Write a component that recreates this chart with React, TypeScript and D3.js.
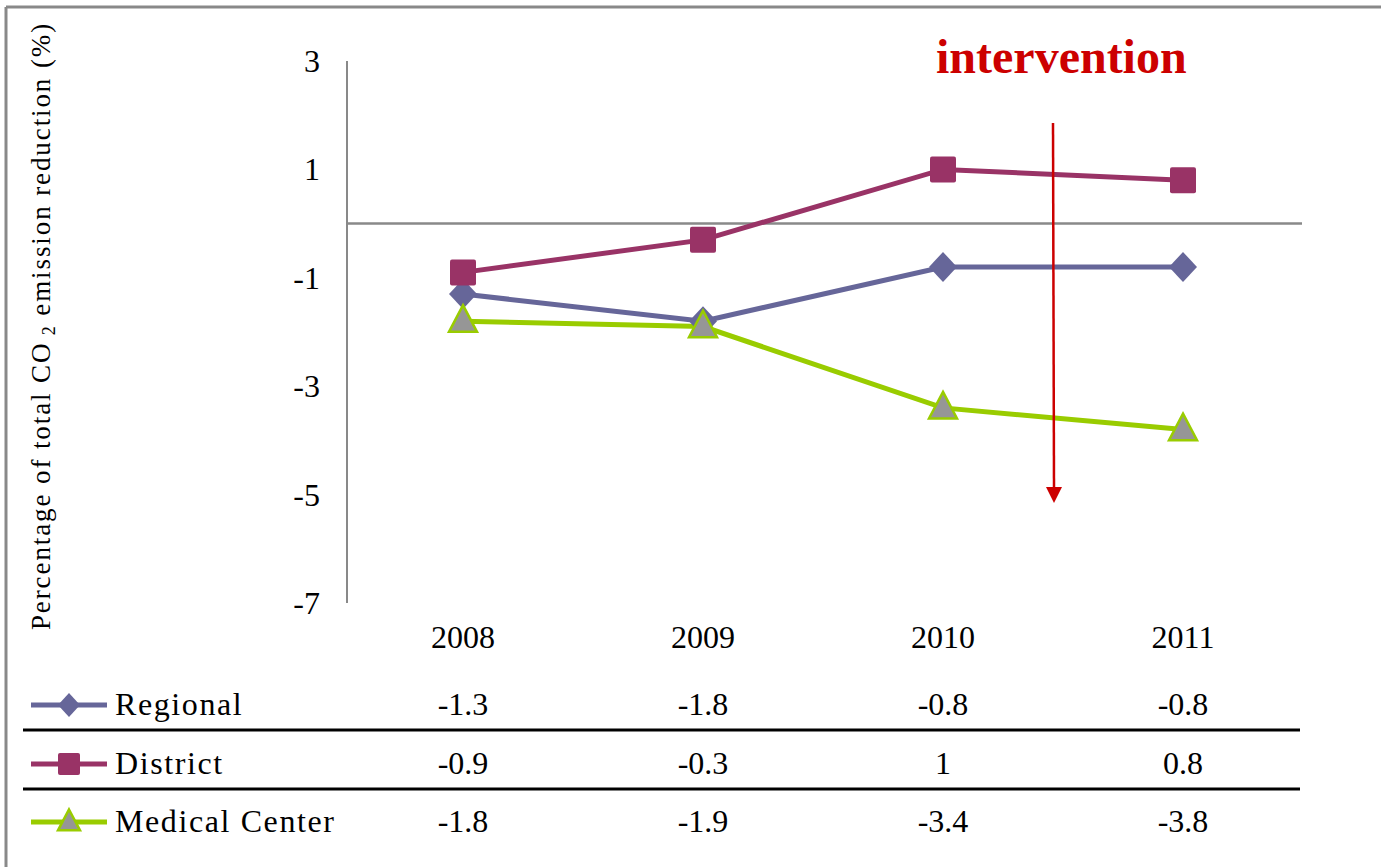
import React from "react";
import * as d3 from "d3";

const years = ["2008", "2009", "2010", "2011"];
const regional = [-1.3, -1.8, -0.8, -0.8];
const district = [-0.9, -0.3, 1, 0.8];
const medical = [-1.8, -1.9, -3.4, -3.8];
const yTicks = [3, 1, -1, -3, -5, -7];
const seriesNames = ["Regional", "District", "Medical Center"];
const tableLabels = [
  ["-1.3", "-1.8", "-0.8", "-0.8"],
  ["-0.9", "-0.3", "1", "0.8"],
  ["-1.8", "-1.9", "-3.4", "-3.8"],
];
const interventionValue = 2010.5;

const W = 1381;
const H = 867;
const FONT = "'Liberation Serif', 'Times New Roman', serif";

const x = d3.scaleBand<string>().domain(years).range([343, 1303]);
const y = d3.scaleLinear().domain([-7, 3]).range([603, 61]);
const cx = (yr: string) => (x(yr) as number) + x.bandwidth() / 2;

type Marker = "diamond" | "square" | "triangle";
const series = [
  { name: seriesNames[0], values: regional, color: "#666699", marker: "diamond" as Marker },
  { name: seriesNames[1], values: district, color: "#993366", marker: "square" as Marker },
  { name: seriesNames[2], values: medical, color: "#99CC00", marker: "triangle" as Marker },
];

function MarkerShape({ kind, px, py, size, color }: { kind: Marker; px: number; py: number; size: number; color: string }) {
  if (kind === "square") {
    const s = size;
    return <rect x={px - s / 2} y={py - s / 2} width={s} height={s} rx={2} fill={color} />;
  }
  if (kind === "diamond") {
    const h = size / 2;
    const w = size / 2;
    return <path d={`M${px},${py - h - 1} L${px + w},${py} L${px},${py + h + 1} L${px - w},${py} Z`} fill={color} />;
  }
  const s = size;
  const h = s * 0.95;
  return (
    <path
      d={`M${px},${py - h * 0.6} L${px + s / 2},${py + h * 0.4} L${px - s / 2},${py + h * 0.4} Z`}
      fill="#969696"
      stroke={color}
      strokeWidth={2.5}
      strokeLinejoin="miter"
    />
  );
}

export default function App() {
  const line = d3
    .line<number>()
    .x((_, i) => cx(years[i]))
    .y((d) => y(d));

  const ix = d3.scaleLinear().domain([2008, 2011]).range([cx("2008"), cx("2011")])(interventionValue);
  const arrowX = ix - 10;

  const rowBase = [715, 774, 832];

  return (
    <svg
      width={W}
      height={H}
      style={{ position: "absolute", left: 0, top: 0, background: "#fff", fontFamily: FONT }}
    >
      {/* frame */}
      <line x1={6} y1={7} x2={W} y2={7} stroke="#898989" strokeWidth={3} />
      <line x1={6} y1={7} x2={6} y2={H} stroke="#898989" strokeWidth={3} />

      {/* y axis title */}
      <text
        transform={`translate(50, 326) rotate(-90)`}
        textAnchor="middle"
        fontSize={27}
        letterSpacing={1.9}
        fill="#000"
      >
        Percentage of total CO<tspan fontSize={18} dy={5}> 2</tspan>
        <tspan dy={-5}> emission reduction (%)</tspan>
      </text>

      {/* y axis */}
      <line x1={347} y1={y(3)} x2={347} y2={y(-7)} stroke="#898989" strokeWidth={2} />
      {yTicks.map((t) => (
        <text key={t} x={320} y={y(t) + 11} textAnchor="end" fontSize={32} fill="#000">
          {t}
        </text>
      ))}
      {/* zero line */}
      <line x1={347} y1={y(0)} x2={1302} y2={y(0)} stroke="#898989" strokeWidth={2.5} />

      {/* x labels */}
      {years.map((yr) => (
        <text key={yr} x={cx(yr)} y={648} textAnchor="middle" fontSize={32} fill="#000">
          {yr}
        </text>
      ))}

      {/* series lines */}
      {series.map((s) => (
        <path key={s.name} d={line(s.values) || ""} fill="none" stroke={s.color} strokeWidth={5} />
      ))}
      {/* markers */}
      {series.map((s) =>
        s.values.map((v, i) => (
          <MarkerShape
            key={s.name + i}
            kind={s.marker}
            px={cx(years[i])}
            py={y(v)}
            size={s.marker === "square" ? 26 : 28}
            color={s.color}
          />
        ))
      )}

      {/* intervention */}
      <text x={936} y={73} fontSize={48} fontWeight="bold" fill="#CC0000">
        intervention
      </text>
      <line x1={arrowX} y1={123} x2={arrowX + 1} y2={488} stroke="#CC0000" strokeWidth={2.5} />
      <path
        d={`M${arrowX - 7},${487} L${arrowX + 9},${487} L${arrowX + 1},${503} Z`}
        fill="#CC0000"
      />

      {/* data table */}
      {series.map((s, r) => (
        <g key={s.name}>
          <line x1={31} y1={rowBase[r] - 10} x2={107} y2={rowBase[r] - 10} stroke={s.color} strokeWidth={5} />
          <MarkerShape kind={s.marker} px={69} py={rowBase[r] - 10} size={22} color={s.color} />
          <text x={115} y={rowBase[r]} fontSize={32} letterSpacing={1.6} fill="#000">
            {s.name}
          </text>
          {tableLabels[r].map((lab, i) => (
            <text key={i} x={cx(years[i])} y={rowBase[r]} textAnchor="middle" fontSize={32} fill="#000">
              {lab}
            </text>
          ))}
        </g>
      ))}
      <line x1={23} y1={730} x2={1300} y2={730} stroke="#000" strokeWidth={3} />
      <line x1={23} y1={789} x2={1300} y2={789} stroke="#000" strokeWidth={3} />
    </svg>
  );
}
